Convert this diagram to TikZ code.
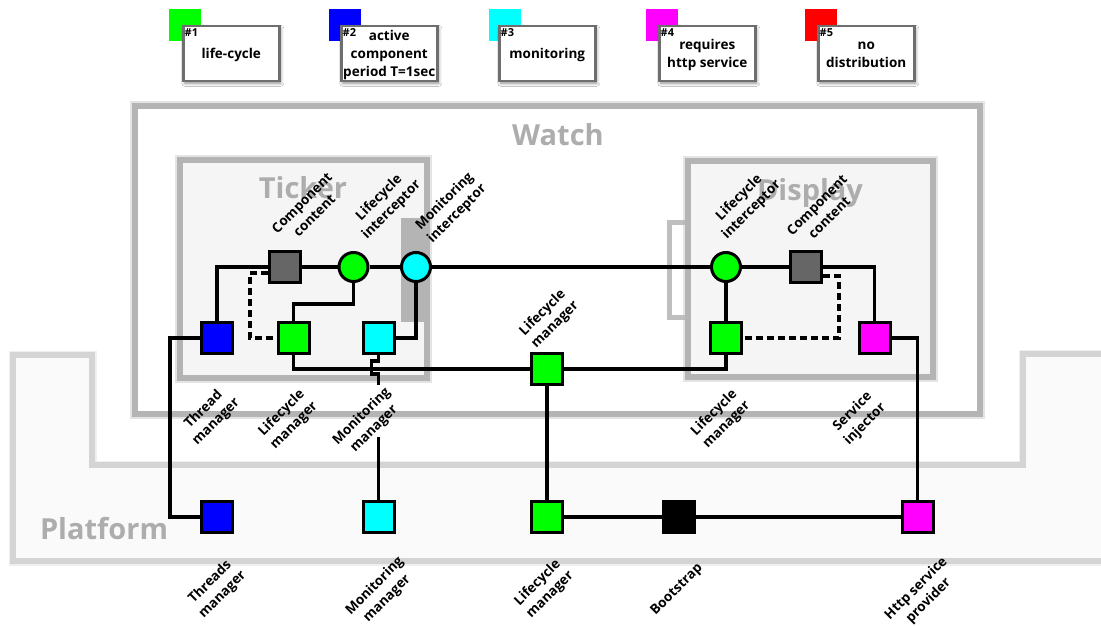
\documentclass[tikz,border=0pt]{standalone}
\usepackage{fontspec}
\newfontfamily\osans{Open Sans}
\usetikzlibrary{shadows.blur}

\definecolor{cgreen}{HTML}{00FF00}
\definecolor{cblue}{HTML}{0000FF}
\definecolor{ccyan}{HTML}{00FFFF}
\definecolor{cmagenta}{HTML}{FF00FF}
\definecolor{cred}{HTML}{FF0000}
\definecolor{ccontent}{HTML}{666666}
\definecolor{framegray}{HTML}{B4B4B4}
\definecolor{platgray}{HTML}{D4D4D4}
\definecolor{platfill}{HTML}{FAFAFA}
\definecolor{boxfill}{HTML}{F5F5F5}
\definecolor{titlegray}{HTML}{ADADAD}
\definecolor{legborder}{HTML}{6E6E6E}

\begin{document}
\begin{tikzpicture}[x=1pt,y=-1pt,
  comp/.style={draw=black, line width=3pt, minimum size=31pt, inner sep=0pt},
  itc/.style={circle, draw=black, line width=3pt, minimum size=29pt, inner sep=0pt},
  wire/.style={draw=black, line width=3.2pt},
  dwire/.style={wire, dash pattern=on 7pt off 4pt},
  frame/.style={draw=framegray, line width=6.5pt,
    preaction={draw=framegray, line width=10pt, draw opacity=0.35}},
  platframe/.style={draw=platgray, line width=6pt, fill=platfill,
    preaction={draw=platgray, line width=9pt, draw opacity=0.35}},
  title/.style={font=\osans\bfseries\fontsize{29}{29}\selectfont, text=titlegray, anchor=base, inner sep=0pt},
  lbl/.style={font=\osans\bfseries\fontsize{13.5}{17.5}\selectfont, align=center, rotate=45, inner sep=0pt},
  legsq/.style={minimum size=32pt, inner sep=0pt, anchor=north west},
  legbox/.style={draw=legborder, line width=2.5pt, fill=white, minimum width=96pt, minimum height=55pt,
    anchor=north west, inner sep=0pt,
    blur shadow={shadow xshift=1.5pt, shadow yshift=-2pt, shadow blur radius=3pt, shadow opacity=45}},
  legtext/.style={font=\osans\bfseries\fontsize{13.5}{18}\selectfont, align=center, inner sep=0pt},
  hash/.style={font=\osans\bfseries\fontsize{11}{11}\selectfont, anchor=north west, inner sep=0pt}
]
\useasboundingbox (0,0) rectangle (1101,626);
\clip (0,0) rectangle (1101,626);
\fill[white] (0,0) rectangle (1101,626);

% ---------- legend ----------
\foreach \i/\sx/\bx/\col/\txt in {
  1/169/182/cgreen/{life-cycle},
  2/329/340/cblue/{active\\component\\period T=1sec},
  3/489/498/ccyan/{monitoring},
  4/646/658/cmagenta/{requires\\http service},
  5/805/817/cred/{no\\distribution}}{
  \node[legsq, fill=\col] (legsq\i) at (\sx,9) {};
  \node[legbox] (legbox\i) at (\bx,25) {};
  \node[legtext] (legtxt\i) at ([yshift=-1pt]legbox\i.center) {\txt};
  \node[hash] (leghash\i) at ([xshift=2.5pt,yshift=-3pt]legbox\i.north west) {\#\i};
}

% ---------- containers ----------
\path[platframe] (13,355) -- (92,355) -- (92,465) -- (1023,465) -- (1023,354)
  -- (1110,354) -- (1110,561) -- (13,561) -- cycle;
\node[title] (platformtitle) at (104,539) {Platform};

\path[frame, fill=white] (135,106) rectangle (980,414);
\node[title] (watchtitle) at (558,145) {Watch};

% Display port on the left side
\path[draw=framegray!85, line width=5pt, fill=white] (669.5,222) rectangle (692,317);
\path[frame, fill=boxfill] (688,161) rectangle (933,377);
\node[title] (displaytitle) at (810,200) {Display};

\path[frame, fill=boxfill] (180,160) rectangle (427,378);
% Ticker port on the right side
\fill[framegray] (401,218) rectangle (426,322);
\node[title] (tickertitle) at (303,198) {Ticker};

% ---------- Ticker components ----------
\node[comp, fill=ccontent] (tcc) at (285,267) {};
\node[itc, fill=cgreen] (tli) at (353.5,267) {};
\node[itc, fill=ccyan] (tmi) at (416,267) {};
\node[comp, fill=cblue] (tthr) at (217,338) {};
\node[comp, fill=cgreen] (tlm) at (293.5,338) {};
\node[comp, fill=ccyan] (tmm) at (378.5,338) {};

% ---------- Display components ----------
\node[itc, fill=cgreen] (dli) at (726,267) {};
\node[comp, fill=ccontent] (dcc) at (806,267) {};
\node[comp, fill=cgreen] (dlm) at (726,338) {};
\node[comp, fill=cmagenta] (dsi) at (874.5,338) {};

% ---------- Watch level ----------
\node[comp, fill=cgreen] (mlm) at (547,369) {};

% ---------- Platform ----------
\node[comp, fill=cblue] (bthr) at (217,517) {};
\node[comp, fill=ccyan] (bmm) at (378.5,517) {};
\node[comp, fill=cgreen] (blm) at (547,517) {};
\node[comp, fill=black] (boot) at (678.5,517) {};
\node[comp, fill=cmagenta] (bhttp) at (917.5,517) {};

% ---------- bindings ----------
\draw[wire] (tcc.west) -| (tthr.north);
\draw[wire] (tcc) -- (tli);
\draw[wire] (tli) -- (tmi);
\draw[wire] (tmi) -- (dli);
\draw[dwire] ([yshift=-6pt]tcc.west) -- ++(-18,0) |- (tlm.west);
\draw[wire] (tli.south) -- ++(0,21) -| (tlm.north);
\draw[wire] (tmi.south) |- (tmm.east);
\draw[wire] (tlm.south) |- (mlm.west);
\draw[wire] (tthr.west) -- ++(-30,0) |- (bthr.west);

\coordinate (mmgapa) at (378.5,385);
\coordinate (mmgapb) at (378.5,437);
\draw[wire] (tmm.south) -- ++(0,6) -- ++(-7,0) -- ++(0,13) -- ++(7,0) -- (mmgapa);
\draw[wire] (mmgapb) -- (bmm.north);

\draw[wire] (dli) -- (dcc);
\draw[wire] (dli) -- (dlm);
\draw[wire] (dcc.east) -| (dsi.north);
\draw[dwire] ([yshift=-9pt]dcc.east) -- ++(16,0) |- (dlm.east);
\draw[wire] (dlm.south) |- (mlm.east);
\draw[wire] (dsi.east) -| (bhttp.north);

\draw[wire] (mlm) -- (blm);
\draw[wire] (blm) -- (boot);
\draw[wire] (boot) -- (bhttp);

% ---------- labels ----------
\node[lbl] (ltcc) at (308,209) {Component\\content};
\node[lbl] (ltli) at (385.5,204) {Lifecycle\\interceptor};
\node[lbl] (ltmi) at (451,208) {Monitoring\\interceptor};
\node[lbl] (ldli) at (745.5,204) {Lifecycle\\interceptor};
\node[lbl] (ldcc) at (823,211) {Component\\content};
\node[lbl] (lmlm) at (549,319) {Lifecycle\\manager};

\node[lbl] (ltthr) at (210,416) {Thread\\manager};
\node[lbl] (ltlm) at (288,419.5) {Lifecycle\\manager};
\node[lbl] (ltmm) at (368,423) {Monitoring\\manager};
\node[lbl] (ldlm) at (720.5,419) {Lifecycle\\manager};
\node[lbl] (ldsi) at (859,418) {Service\\injector};

\node[lbl] (lbthr) at (216.5,588.5) {Threads\\manager};
\node[lbl] (lbmm) at (381,592.5) {Monitoring\\manager};
\node[lbl] (lblm) at (544,589) {Lifecycle\\manager};
\node[lbl] (lboot) at (677,590) {Bootstrap};
\node[lbl] (lbhttp) at (922.5,595) {Http service\\provider};
\end{tikzpicture}
\end{document}
